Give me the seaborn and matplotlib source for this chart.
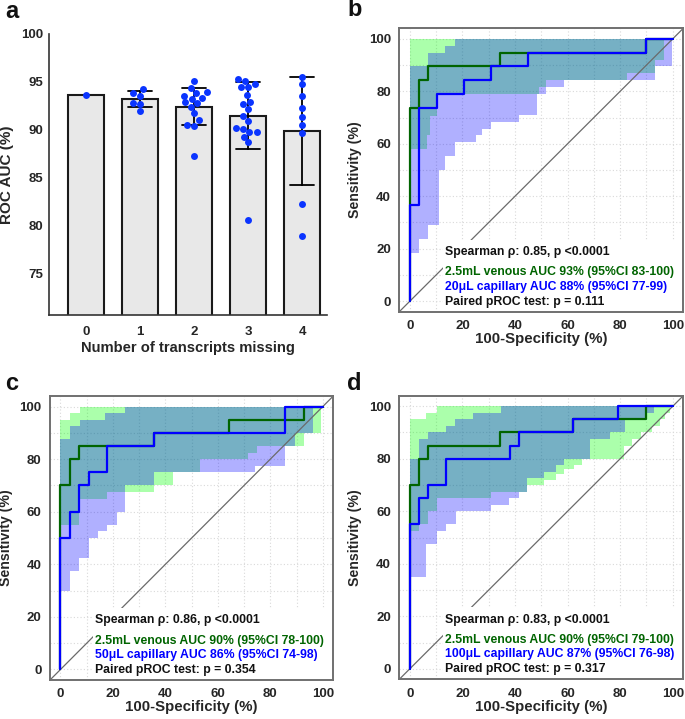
import numpy as np
import pandas as pd
import matplotlib
matplotlib.use("Agg")
import matplotlib.pyplot as plt
from matplotlib.patches import Rectangle
import seaborn as sns

sns.set_theme(style="white")
plt.rcParams["font.family"] = ["Liberation Sans", "DejaVu Sans"]
plt.rcParams["font.weight"] = "bold"
plt.rcParams["axes.labelweight"] = "bold"

# ---------------- Panel a data ----------------
missing_cats = [0, 1, 2, 3, 4]
auc_m0 = [93.6]
auc_m1 = [93.85, 94.24, 93.58, 92.81, 92.74, 91.98]
auc_m2 = [95.10, 94.34, 93.82, 93.92, 93.37, 93.26, 93.58, 92.88, 92.81, 92.43,
          91.77, 91.00, 90.52, 90.45, 87.33]
auc_m3 = [95.31, 95.14, 94.79, 94.48, 94.48, 93.61, 92.95, 92.67, 92.15, 91.49,
          90.97, 89.83, 89.76, 90.21, 90.14, 89.31, 88.75, 80.59]
auc_m4 = [95.56, 94.79, 93.58, 92.33, 91.39, 90.56, 89.65, 82.26, 78.89]
a_yticks = [75, 80, 85, 90, 95, 100]

# ---------------- ROC data (100-specificity %, sensitivity %) ----------------
# panel b
b_ven_fpr = [0, 0, 3.45, 6.90, 34.48, 89.66, 100]
b_ven_tpr = [0, 73.68, 84.21, 89.47, 94.74, 100, 100]
b_cap_fpr = [0, 0, 3.45, 10.34, 20.69, 31.03, 44.83, 89.66, 100]
b_cap_tpr = [0, 36.84, 73.68, 78.95, 84.21, 89.47, 94.74, 100, 100]
b_ven_ci_x = [0, 6.4, 7.6, 10.3, 49, 51.7, 82.5, 93.3, 96.7, 100]
b_ven_ci_lo = [57.9, 63.2, 70.5, 78.9, 81.6, 84.2, 86.8, 92.1, 100, 100]
b_ven_ci_hi = [100, 100, 100, 100, 100, 100, 100, 100, 100, 100]
b_cap_ci_x = [0, 3.4, 6.9, 11, 13.4, 17.3, 25.3, 27.6, 31, 41.4, 48.3, 51.7, 58.6, 93.3, 99.6, 100]
b_cap_ci_lo = [18.4, 23.7, 28.9, 50.0, 55.3, 60.5, 63.2, 65.8, 68.4, 71.1, 78.9, 81.6, 84.2, 89.5, 100, 100]
b_cap_ci_hi = [89.5, 89.5, 94.7, 94.7, 97.4, 100, 100, 100, 100, 100, 100, 100, 100, 100, 100, 100]
b_texts = ["Spearman \u03c1: 0.85, p <0.0001",
           "2.5mL venous AUC 93% (95%CI 83-100)",
           "20\u03bcL capillary AUC 88% (95%CI 77-99)",
           "Paired pROC test: p = 0.111"]

# panel c
c_ven_fpr = [0, 0, 3.57, 7.14, 35.71, 64.29, 92.86, 100]
c_ven_tpr = [0, 70, 80, 85, 90, 95, 100, 100]
c_cap_fpr = [0, 0, 3.57, 7.14, 10.71, 17.86, 35.71, 85.71, 100]
c_cap_tpr = [0, 50, 60, 70, 75, 85, 90, 100, 100]
c_ven_ci_x = [0, 3.57, 7.14, 7.6, 17.9, 35.7, 42.9, 53.2, 71.5, 75, 92.9, 99.4, 100]
c_ven_ci_lo = [55, 55, 65, 65, 67.5, 70, 75, 80, 82.5, 85, 90, 100, 100]
c_ven_ci_hi = [95, 97.5, 97.5, 100, 100, 100, 100, 100, 100, 100, 100, 100, 100]
c_cap_ci_x = [0, 3.57, 7.14, 7.6, 10.7, 14.3, 17.1, 17.9, 21.4, 24.7, 35.7, 74, 85.7, 89.3, 96.4, 100]
c_cap_ci_lo = [30, 37.5, 42.5, 42.5, 50, 52.5, 52.5, 55, 60, 70, 75, 77.5, 85, 90, 100, 100]
c_cap_ci_hi = [87.5, 92.5, 92.5, 95, 95, 95, 97.5, 97.5, 97.5, 100, 100, 100, 100, 100, 100, 100]
c_texts = ["Spearman \u03c1: 0.86, p <0.0001",
           "2.5mL venous AUC 90% (95%CI 78-100)",
           "50\u03bcL capillary AUC 86% (95%CI 74-98)",
           "Paired pROC test: p = 0.354"]

# panel d
d_ven_fpr = [0, 0, 3.45, 6.90, 34.48, 62.07, 89.66, 100]
d_ven_tpr = [0, 70, 80, 85, 90, 95, 100, 100]
d_cap_fpr = [0, 0, 3.45, 6.90, 13.79, 37.93, 41.38, 62.07, 79.31, 100]
d_cap_tpr = [0, 55, 65, 70, 80, 85, 90, 95, 100, 100]
d_ven_ci_x = [0, 3.45, 6.3, 6.9, 10.3, 31, 44.6, 50.9, 55.4, 58.5, 62.3, 65.5, 81.5, 84.5, 88, 92, 95, 97, 99, 100]
d_ven_ci_lo = [52.5, 55, 55, 60, 65, 67.5, 70, 72, 74, 76, 77.5, 80, 85, 87.5, 90, 92.5, 95, 97.5, 100, 100]
d_ven_ci_hi = [95, 95, 97.5, 97.5, 100, 100, 100, 100, 100, 100, 100, 100, 100, 100, 100, 100, 100, 100, 100, 100]
d_cap_ci_x = [0, 3.45, 6.1, 6.9, 10.5, 13.6, 13.8, 17.2, 17.4, 24.1, 30.7, 34.5, 37.7, 41.5, 44.6,
              50.9, 55.4, 58.5, 68.6, 76, 82, 89.7, 93, 100]
d_cap_ci_lo = [35, 35, 47.5, 47.5, 52.5, 55, 55, 55, 60, 60, 62.5, 62.5, 65, 67.5, 72.5,
               75, 77.5, 80, 87.5, 90, 95, 97.5, 100, 100]
d_cap_ci_hi = [80, 87.5, 87.5, 90, 90, 90, 92.5, 95, 95, 97.5, 97.5, 100, 100, 100, 100,
               100, 100, 100, 100, 100, 100, 100, 100, 100]
d_texts = ["Spearman \u03c1: 0.83, p <0.0001",
           "2.5mL venous AUC 90% (95%CI 79-100)",
           "100\u03bcL capillary AUC 87% (95%CI 76-98)",
           "Paired pROC test: p = 0.317"]

roc_ticks = [0, 20, 40, 60, 80, 100]

# ---------------- figure ----------------
W, H = 685, 719
fig = plt.figure(figsize=(W / 100, H / 100), dpi=100)


def box(l, t, r, b):
    return [l / W, 1 - b / H, (r - l) / W, (b - t) / H]


# ---- panel a ----
axA = fig.add_axes(box(49, 34, 327, 315))
groups = [auc_m0, auc_m1, auc_m2, auc_m3, auc_m4]
df = pd.DataFrame({
    "missing": np.concatenate([[c] * len(g) for c, g in zip(missing_cats, groups)]),
    "auc": np.concatenate(groups),
})
sns.barplot(data=df, x="missing", y="auc", order=missing_cats, errorbar="sd",
            capsize=0.44, width=0.67, color="#E8E8E8", saturation=1,
            edgecolor="#1a1a1a", linewidth=1.5,
            err_kws={"color": "black", "linewidth": 1.3}, ax=axA)
sns.swarmplot(data=df, x="missing", y="auc", order=missing_cats, color="#0A34FF",
              size=5.0, ax=axA, zorder=3)
axA.set_ylim(70.7, 100)
axA.set_xlim(-0.69, 4.46)
axA.set_yticks(a_yticks)
axA.set_yticklabels([str(v) for v in a_yticks])
axA.set_xticks(range(len(missing_cats)))
axA.set_xticklabels([str(c) for c in missing_cats])
for s in ["top", "right"]:
    axA.spines[s].set_visible(False)
for s in ["left", "bottom"]:
    axA.spines[s].set_color("#333333")
    axA.spines[s].set_linewidth(1.2)
axA.tick_params(axis="both", direction="out", length=3, width=1.1, color="#333333",
                labelsize=9.5, pad=1)
axA.tick_params(axis="x", pad=5)
for lab in axA.get_xticklabels() + axA.get_yticklabels():
    lab.set_fontweight("bold")
axA.set_ylabel("ROC AUC (%)", fontsize=11, fontweight="bold", labelpad=5)
axA.set_xlabel("Number of transcripts missing", fontsize=10.6, fontweight="bold", labelpad=2)


# ---- ROC panels ----
def roc_panel(ax, ven_fpr, ven_tpr, cap_fpr, cap_tpr,
              vx, vlo, vhi, cx, clo, chi, texts):
    ax.set_xlim(-4, 104)
    ax.set_ylim(-4, 104)
    ax.set_xticks(roc_ticks)
    ax.set_yticks(roc_ticks)
    ax.set_xticks(np.arange(10, 101, 20), minor=True)
    ax.set_yticks(np.arange(10, 101, 20), minor=True)
    ax.grid(which="both", color="#d9d9d9", linestyle=(0, (1, 2)), linewidth=0.8)
    ax.set_axisbelow(True)
    ax.fill_between(vx, vlo, vhi, step="post", color=(0, 1, 0), alpha=0.33,
                    linewidth=0, zorder=1)
    ax.fill_between(cx, clo, chi, step="post", color=(0, 0, 1), alpha=0.31,
                    linewidth=0, zorder=1.1)
    ax.axline((0, 0), (100, 100), color="#6a6a6a", linewidth=0.9, zorder=1.5)
    ax.add_patch(Rectangle((12.5, -4), 91.5, 27.5, facecolor="white",
                           edgecolor="none", zorder=2))
    ax.plot(ven_fpr, ven_tpr, drawstyle="steps-post", color="#006400",
            linewidth=1.6, zorder=3)
    ax.plot(cap_fpr, cap_tpr, drawstyle="steps-post", color="#0000FF",
            linewidth=1.6, zorder=4)
    ys = [18.7, 11.0, 5.6, -0.2]
    cols = ["#111111", "#006400", "#0000FF", "#111111"]
    for t, y, c in zip(texts, ys, cols):
        ax.text(13.3, y, t, color=c, fontsize=8.8, fontweight="bold",
                va="center", ha="left", zorder=5)
    for s in ax.spines.values():
        s.set_color("#707070")
        s.set_linewidth(1.4)
        s.set_visible(True)
    ax.tick_params(which="major", direction="out", length=4, width=1.0,
                   color="#707070", labelsize=9.5, pad=2)
    ax.tick_params(which="minor", length=0)
    for lab in ax.get_xticklabels() + ax.get_yticklabels():
        lab.set_fontweight("bold")
    ax.set_xlabel("100-Specificity (%)", fontsize=10.8, fontweight="bold", labelpad=0)
    ax.set_ylabel("Sensitivity (%)", fontsize=10.2, fontweight="bold", labelpad=5)


axB = fig.add_axes(box(399.3, 28.3, 683.3, 311.7))
roc_panel(axB, b_ven_fpr, b_ven_tpr, b_cap_fpr, b_cap_tpr,
          b_ven_ci_x, b_ven_ci_lo, b_ven_ci_hi, b_cap_ci_x, b_cap_ci_lo, b_cap_ci_hi, b_texts)
axC = fig.add_axes(box(50, 396, 333.3, 680))
roc_panel(axC, c_ven_fpr, c_ven_tpr, c_cap_fpr, c_cap_tpr,
          c_ven_ci_x, c_ven_ci_lo, c_ven_ci_hi, c_cap_ci_x, c_cap_ci_lo, c_cap_ci_hi, c_texts)
axD = fig.add_axes(box(399.3, 395.7, 683.3, 679.3))
roc_panel(axD, d_ven_fpr, d_ven_tpr, d_cap_fpr, d_cap_tpr,
          d_ven_ci_x, d_ven_ci_lo, d_ven_ci_hi, d_cap_ci_x, d_cap_ci_lo, d_cap_ci_hi, d_texts)

# panel letters
for lab, x, y in [("a", 5, 12), ("b", 347, 10), ("c", 5, 383), ("d", 347, 383)]:
    fig.text(x / W, 1 - y / H, lab, fontsize=17, fontweight="bold",
             ha="left", va="center", color="#111111")

fig.savefig("out.png", dpi=100, facecolor="white")
